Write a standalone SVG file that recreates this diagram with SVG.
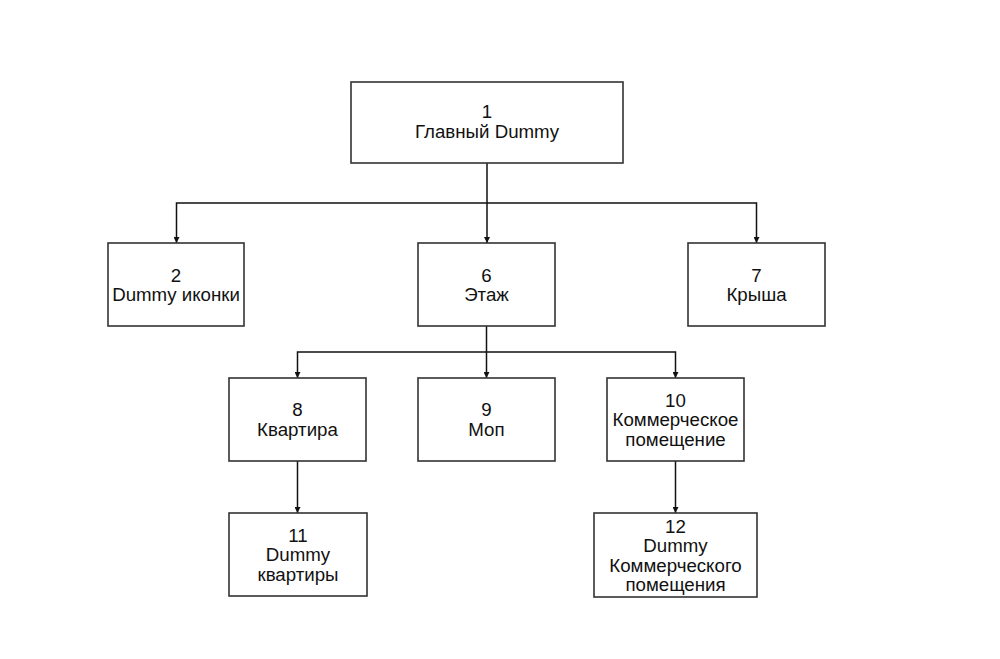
<svg xmlns="http://www.w3.org/2000/svg" width="1000" height="659" viewBox="0 0 1000 659">
<style>
.box{fill:#fff;stroke:#333;stroke-width:1.6}
.lbl{font-family:"Liberation Sans",Arial,sans-serif;font-size:18.7px;fill:#111;text-anchor:middle}
.edge{fill:none;stroke:#111;stroke-width:1.5}
</style>
<defs>
<marker id="arr" viewBox="0 0 10 10" refX="10" refY="5" markerWidth="6" markerHeight="6" markerUnits="userSpaceOnUse" orient="auto">
<path d="M0,0 L10,5 L0,10 z" fill="#111"/>
</marker>
</defs>
<rect width="1000" height="659" fill="#fff"/>
<g id="connectors">
<path class="edge" d="M487,163 V243" marker-end="url(#arr)"/>
<path class="edge" d="M487,203 H176.5 V243" marker-end="url(#arr)"/>
<path class="edge" d="M487,203 H756.5 V243" marker-end="url(#arr)"/>
<path class="edge" d="M486.5,326 V378" marker-end="url(#arr)"/>
<path class="edge" d="M486.5,352 H297.5 V378" marker-end="url(#arr)"/>
<path class="edge" d="M486.5,352 H675.5 V378" marker-end="url(#arr)"/>
<path class="edge" d="M297.5,461 V513" marker-end="url(#arr)"/>
<path class="edge" d="M675.5,461 V513" marker-end="url(#arr)"/>
</g>
<g id="n1">
<rect class="box" x="351" y="82" width="272" height="81"/>
<text class="lbl" x="487" y="118"><tspan x="487">1</tspan><tspan x="487" dy="19.5">Главный Dummy</tspan></text>
</g>
<g id="n2">
<rect class="box" x="108" y="243" width="136" height="83"/>
<text class="lbl" x="176" y="281.5"><tspan x="176">2</tspan><tspan x="176" dy="19.5">Dummy иконки</tspan></text>
</g>
<g id="n6">
<rect class="box" x="418" y="243" width="137" height="83"/>
<text class="lbl" x="486.5" y="281.5"><tspan x="486.5">6</tspan><tspan x="486.5" dy="19.5">Этаж</tspan></text>
</g>
<g id="n7">
<rect class="box" x="688" y="243" width="137" height="83"/>
<text class="lbl" x="756.5" y="281.5"><tspan x="756.5">7</tspan><tspan x="756.5" dy="19.5">Крыша</tspan></text>
</g>
<g id="n8">
<rect class="box" x="229" y="378" width="137" height="83"/>
<text class="lbl" x="297.5" y="416"><tspan x="297.5">8</tspan><tspan x="297.5" dy="19.5">Квартира</tspan></text>
</g>
<g id="n9">
<rect class="box" x="418" y="378" width="137" height="83"/>
<text class="lbl" x="486.5" y="416"><tspan x="486.5">9</tspan><tspan x="486.5" dy="19.5">Моп</tspan></text>
</g>
<g id="n10">
<rect class="box" x="607" y="378" width="137" height="83"/>
<text class="lbl" x="675.5" y="406.5"><tspan x="675.5">10</tspan><tspan x="675.5" dy="19.5">Коммерческое</tspan><tspan x="675.5" dy="19.5">помещение</tspan></text>
</g>
<g id="n11">
<rect class="box" x="229" y="513" width="138" height="83"/>
<text class="lbl" x="298" y="541.5"><tspan x="298">11</tspan><tspan x="298" dy="19.5">Dummy</tspan><tspan x="298" dy="19.5">квартиры</tspan></text>
</g>
<g id="n12">
<rect class="box" x="594" y="513" width="163" height="84"/>
<text class="lbl" x="675.5" y="532.5"><tspan x="675.5">12</tspan><tspan x="675.5" dy="19.5">Dummy</tspan><tspan x="675.5" dy="19.5">Коммерческого</tspan><tspan x="675.5" dy="19.5">помещения</tspan></text>
</g>
</svg>
